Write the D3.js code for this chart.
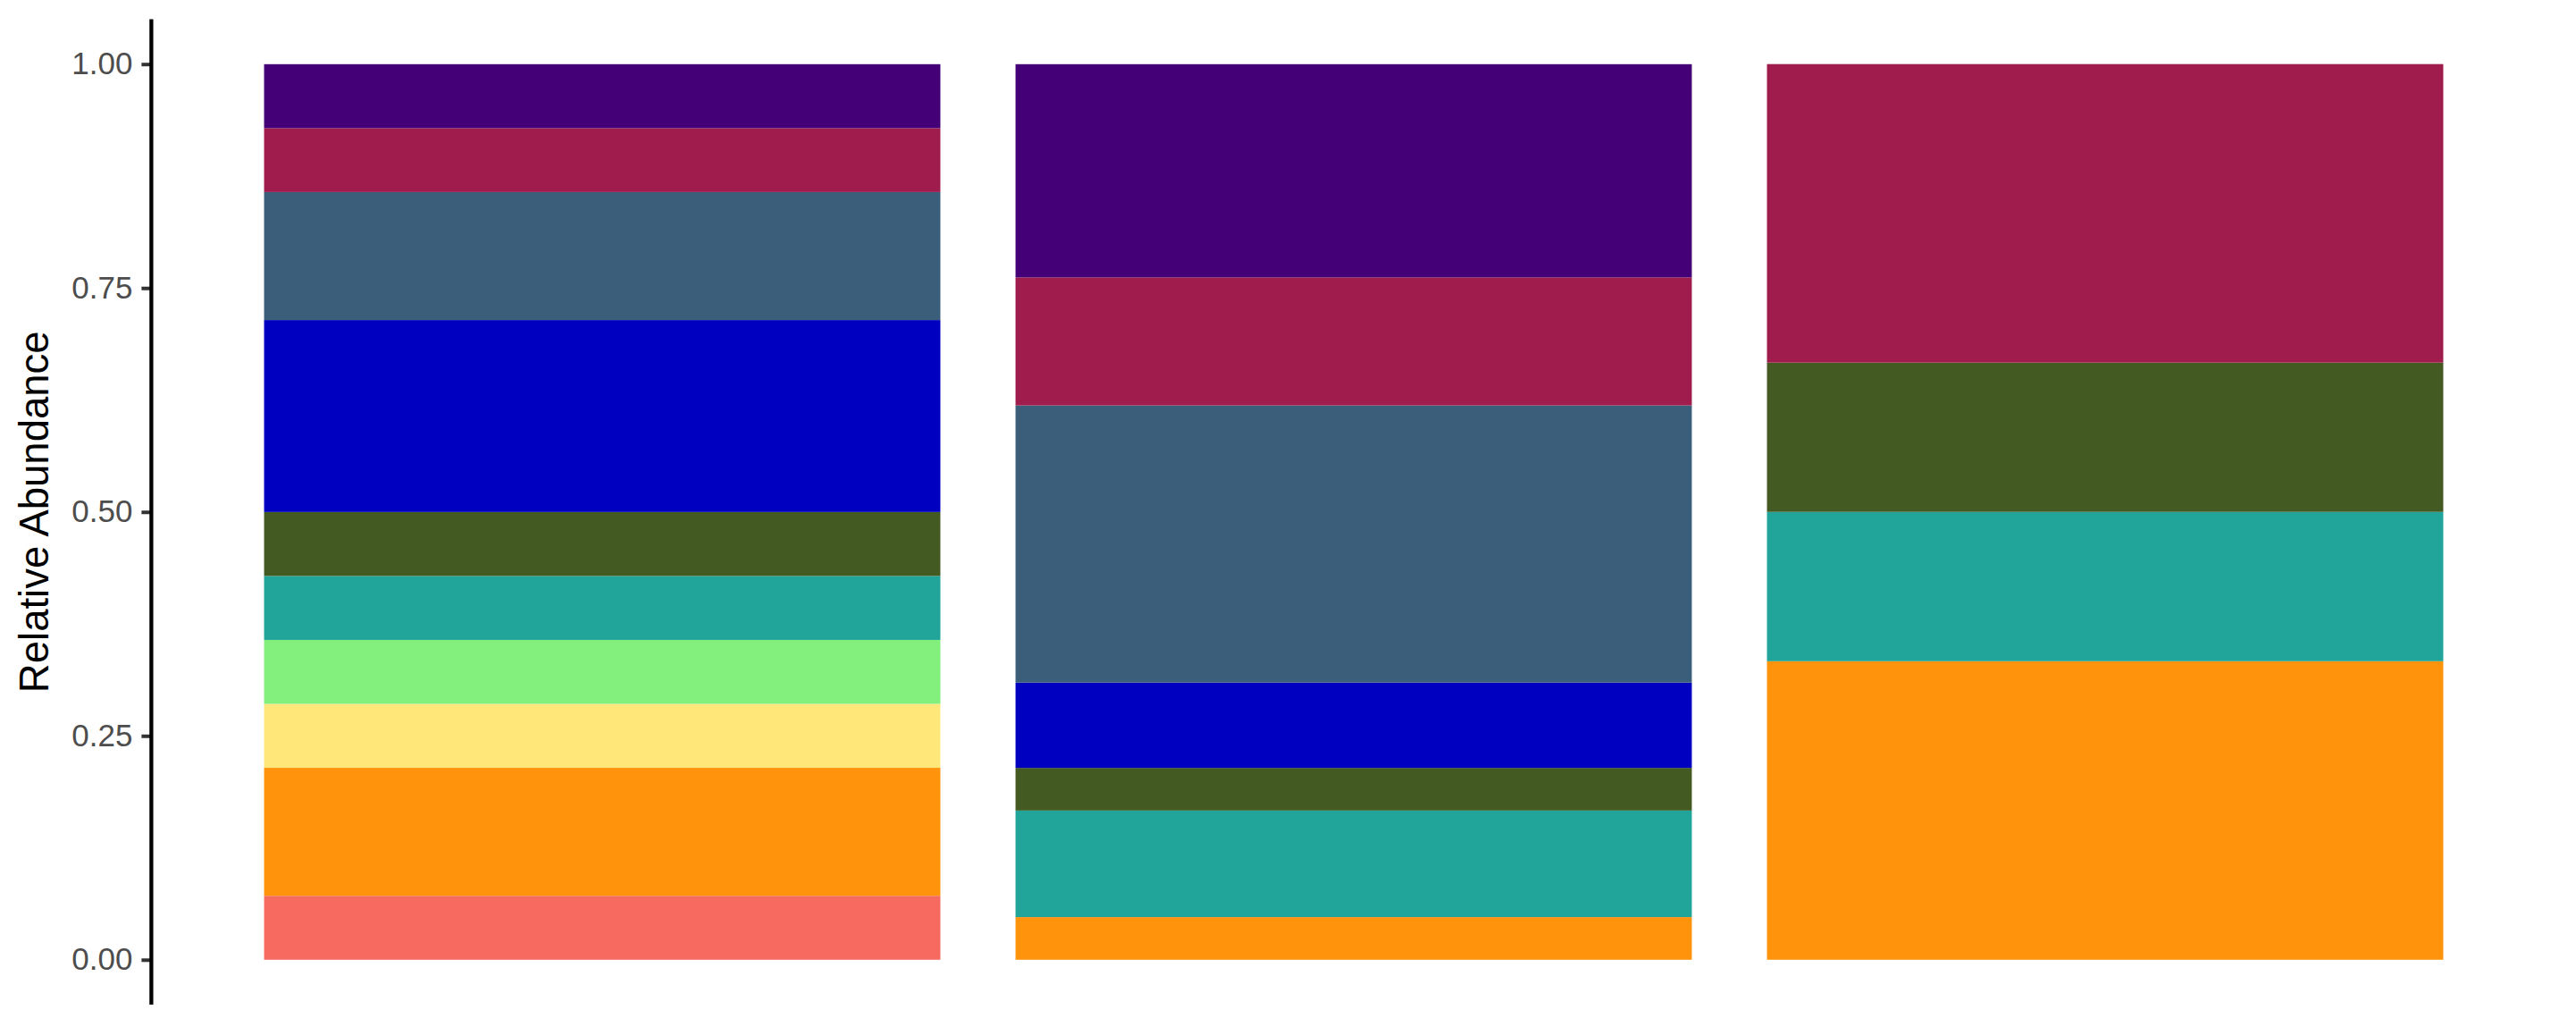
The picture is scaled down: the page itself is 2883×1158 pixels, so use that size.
<!DOCTYPE html>
<html>
<head>
<meta charset="utf-8">
<script src="https://cdn.jsdelivr.net/npm/d3@7"></script>
<style>
  html, body { margin: 0; padding: 0; background: #ffffff; }
  svg { display: block; }
</style>
</head>
<body>
<svg id="chart" width="2883" height="1158"></svg>
<script>
// ---- data ----
const samples = ["Sample 1", "Sample 2", "Sample 3"];
const taxa = ["Taxon J", "Taxon I", "Taxon H", "Taxon G", "Taxon F",
              "Taxon E", "Taxon D", "Taxon C", "Taxon B", "Taxon A"]; // bottom -> top
const taxonColors = ["#F76A60", "#FF930B", "#FFE77A", "#83EF7D", "#21A59A",
                     "#445A23", "#0000C1", "#3B5F7B", "#A01C4C", "#430077"];
const sample1 = [0.0714, 0.1429, 0.0714, 0.0714, 0.0714, 0.0714, 0.2143, 0.1429, 0.0714, 0.0714];
const sample2 = [0.0000, 0.0476, 0.0000, 0.0000, 0.1190, 0.0476, 0.0952, 0.3095, 0.1429, 0.2381];
const sample3 = [0.0000, 0.3333, 0.0000, 0.0000, 0.1667, 0.1667, 0.0000, 0.0000, 0.3333, 0.0000];
const yTicks = [0, 0.25, 0.5, 0.75, 1];
const yTickLabels = ["0.00", "0.25", "0.50", "0.75", "1.00"];
const yTitle = "Relative Abundance";

// ---- build table ----
const seriesValues = [sample1, sample2, sample3];
const table = samples.map((s, i) => {
  const row = { sample: s };
  taxa.forEach((t, j) => { row[t] = seriesValues[i][j]; });
  return row;
});

// ---- layout ----
const panel = { left: 169.4, right: 2860.6, top: 21.6, bottom: 1123.9 };
const svg = d3.select("#chart");

const x = d3.scaleBand()
  .domain(samples)
  .range([panel.left, panel.right])
  .paddingInner(0.1)
  .paddingOuter(0.15);

const y = d3.scaleLinear()
  .domain([-0.05, 1.05])
  .range([panel.bottom, panel.top]);

const color = d3.scaleOrdinal().domain(taxa).range(taxonColors);

const stacked = d3.stack().keys(taxa)(table);

svg.append("g")
  .selectAll("g")
  .data(stacked)
  .join("g")
  .attr("fill", d => color(d.key))
  .selectAll("rect")
  .data(d => d.filter(p => p[1] - p[0] > 0))
  .join("rect")
  .attr("x", d => x(d.data.sample))
  .attr("width", x.bandwidth())
  .attr("y", d => y(d[1]))
  .attr("height", d => y(d[0]) - y(d[1]));

// ---- y axis ----
const yAxis = d3.axisLeft(y)
  .tickValues(yTicks)
  .tickFormat((d, i) => yTickLabels[i])
  .tickSize(11)
  .tickPadding(10)
  .tickSizeOuter(0);

const gy = svg.append("g")
  .attr("transform", `translate(${panel.left},0)`)
  .call(yAxis);

gy.select(".domain").remove();
gy.selectAll(".tick line")
  .attr("stroke", "#333333")
  .attr("stroke-width", 4);
gy.selectAll(".tick text")
  .attr("fill", "#4D4D4D")
  .style("font-family", "'Liberation Sans', Arial, sans-serif")
  .style("font-size", "35px");

// axis line across the full panel height
gy.append("line")
  .attr("x1", 0).attr("x2", 0)
  .attr("y1", y.range()[1]).attr("y2", y.range()[0])
  .attr("stroke", "#000000")
  .attr("stroke-width", 4.3)
  .attr("stroke-linecap", "butt");

// ---- y title ----
svg.append("text")
  .attr("transform", `translate(54,${(y(0) + y(1)) / 2}) rotate(-90)`)
  .attr("text-anchor", "middle")
  .attr("fill", "#000000")
  .style("font-family", "'Liberation Sans', Arial, sans-serif")
  .style("font-size", "45.5px")
  .text(yTitle);
</script>
</body>
</html>
